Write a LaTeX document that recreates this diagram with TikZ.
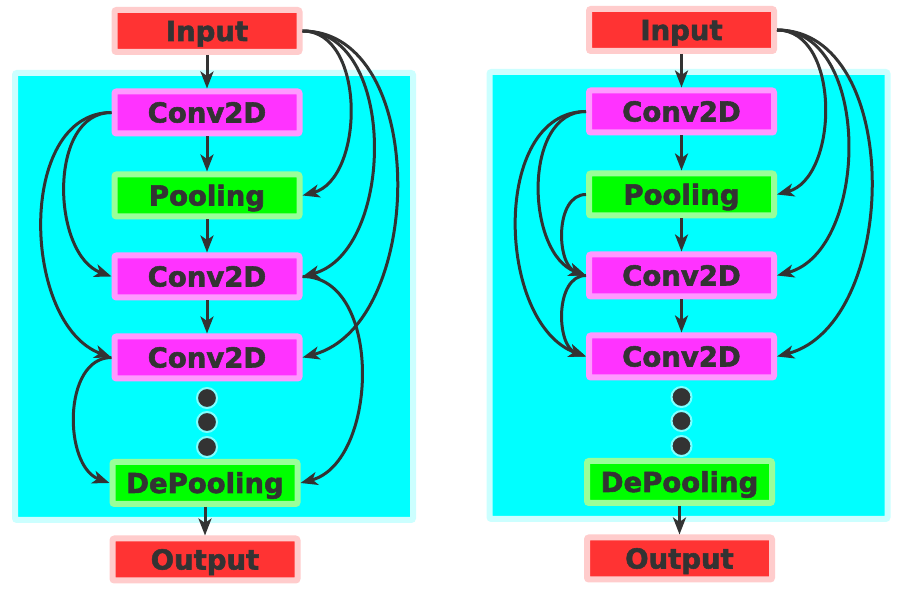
\documentclass[tikz,border=0pt]{standalone}
\usepackage{fontspec}
\setmainfont{DejaVu Sans}
\newfontfamily\boxfont[FakeBold=2]{DejaVu Sans Bold}
\usetikzlibrary{arrows.meta}
\definecolor{txt}{HTML}{333333}
\definecolor{redfill}{HTML}{FF3333}
\definecolor{redline}{HTML}{FFCCCC}
\definecolor{magfill}{HTML}{FF33FF}
\definecolor{magline}{HTML}{FF99FF}
\definecolor{grnfill}{HTML}{00FF00}
\definecolor{grnline}{HTML}{99FF99}
\definecolor{cyanfill}{HTML}{00FFFF}
\definecolor{cyanline}{HTML}{CCFFFF}
\definecolor{dothalo}{HTML}{80FFFF}
\newcommand\netbody{%
  \node[frame, minimum width=398pt, minimum height=447pt] (frame) at (214,297.5) {};
  \node[io]   (in)   at (207,563)   {Input};
  \node[conv] (c1)   at (207,481.5) {Conv2D};
  \node[pool] (pool) at (207,398.5) {Pooling};
  \node[conv] (c2)   at (207,317.5) {Conv2D};
  \node[conv] (c3)   at (207,236.5) {Conv2D};
  \node[dot]  (d1)   at (207,196) {};
  \node[dot]  (d2)   at (207,172) {};
  \node[dot]  (d3)   at (207,147) {};
  \node[pool] (dp)   at (205,111)   {DePooling};
  \node[io]   (out)  at (205,34.5)  {Output};
  \draw[conn] (in) -- (c1);
  \draw[conn] (c1) -- (pool);
  \draw[conn] (pool) -- (c2);
  \draw[conn] (c2) -- (c3);
  \draw[conn] (dp) -- (out);
  \draw[conn] (in.east) to[out=0,in=15] (pool.east);
  \draw[conn] (in.east) to[out=0,in=15] (c2.east);
  \draw[conn] (in.east) to[out=0,in=15] (c3.east);
  \draw[conn] (c1.west) to[out=180,in=160] (c2.west);
  \draw[conn] (c1.west) to[out=180,in=160] (c3.west);
}
\begin{document}
\begin{tikzpicture}[x=1pt,y=1pt,
  box/.style={rectangle, rounded corners=2pt, line width=6pt, minimum width=185pt,
    minimum height=42pt, inner sep=0pt, text=txt,
    font=\boxfont\fontsize{27.5}{30}\selectfont, text height=20pt, text depth=0pt},
  io/.style={box, fill=redfill, draw=redline},
  conv/.style={box, fill=magfill, draw=magline},
  pool/.style={box, fill=grnfill, draw=grnline},
  conn/.style={draw=txt, line width=3pt, -{Stealth[length=17pt,width=13pt,inset=4.5pt]}},
  dot/.style={circle, fill=txt, draw=dothalo, line width=2pt, minimum size=20pt, inner sep=0pt},
  frame/.style={rectangle, rounded corners=2pt, line width=6pt, fill=cyanfill, draw=cyanline, inner sep=0pt}
]
\useasboundingbox (0,0) rectangle (900,594);
\fill[white] (0,0) rectangle (900,594);
% left network
\begin{scope}
  \netbody
  \draw[conn] (c2.east) to[out=0,in=15] (dp.east);
  \draw[conn] (c3.west) to[out=180,in=160] (dp.west);
\end{scope}
% right network
\begin{scope}[shift={(474.5,1)}, name prefix=R-]
  \netbody
  \draw[conn] (pool.west) to[out=180,in=160] (c2.west);
  \draw[conn] (c2.west) to[out=180,in=160] (c3.west);
\end{scope}
\end{tikzpicture}
\end{document}
